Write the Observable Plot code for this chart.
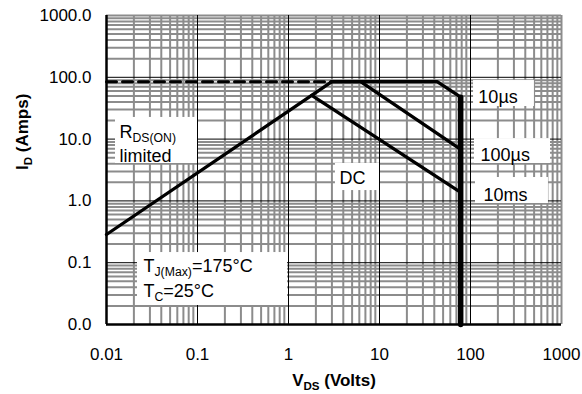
<!DOCTYPE html>
<html>
<head>
<meta charset="utf-8">
<script src="https://cdn.jsdelivr.net/npm/d3@7"></script>
<script src="https://cdn.jsdelivr.net/npm/@observablehq/plot@0.6"></script>
<style>
  html, body { margin: 0; padding: 0; background: #fff; }
  #chart { width: 582px; height: 394px; }
</style>
</head>
<body>
<div id="chart"></div>
<script>
// ---- Axis ticks / labels ----
const xTicks = [0.01, 0.1, 1, 10, 100, 1000];
const xTickLabels = ["0.01", "0.1", "1", "10", "100", "1000"];
const yTicks = [0.01, 0.1, 1, 10, 100, 1000];
const yTickLabels = ["0.0", "0.1", "1.0", "10.0", "100.0", "1000.0"];
const decades = [0.01, 0.1, 1, 10, 100];
const minorSteps = [2, 3, 4, 5, 6, 7, 8, 9];
const majorLines = [0.1, 1, 10, 100];

// ---- SOA curves (V_DS in volts, I_D in amps) ----
const rdsV = [0.01, 3];
const rdsI = [0.286, 85];
const packageV = [0.01, 3];          // dashed package limit
const packageI = [85, 85];
const dcV = [1.8, 78];
const dcI = [51, 1.37];
const us100V = [3, 6.2, 78];
const us100I = [85, 85, 6.8];
const us10V = [3, 43, 78];
const us10I = [85, 85, 47.6];
const bvV = [78, 78];                // breakdown limit
const bvI = [0.01, 47.6];

// ---- Annotations ----
const noteText = ["R_{DS(ON)}", "limited", "10µs", "100µs", "DC", "10ms", "T_{J(Max)}=175°C", "T_{C}=25°C"];
const noteV = [0.0139, 0.0139, 122, 129, 3.63, 139, 0.0255, 0.0255];
const noteI = [10.6, 4.34, 39, 4.5, 1.91, 1.0, 0.072, 0.0274];
const boxV1 = [0.01256, 108, 110.6, 3.28, 113.5, 0.0219];
const boxV2 = [0.1, 504, 757, 10, 719, 0.975];
const boxI1 = [4.03, 33.7, 4.03, 1.47, 0.908, 0.0203];
const boxI2 = [22.4, 88.7, 10.2, 4.03, 2.39, 0.146];

const minor = decades.flatMap(d => minorSteps.map(s => d * s));
const pts = (xs, ys) => xs.map((x, i) => ({x, y: ys[i]}));
const notes = noteText.map((t, i) => ({t, x: noteV[i], y: noteI[i]}));
const boxes = boxV1.map((v, i) => ({x1: v, x2: boxV2[i], y1: boxI1[i], y2: boxI2[i]}));

const plot = Plot.plot({
  width: 582,
  height: 394,
  marginLeft: 106,
  marginRight: 21,
  marginTop: 15,
  marginBottom: 70,
  style: {fontFamily: "'Liberation Sans', Arial, sans-serif", fontSize: "17px", color: "#000", background: "#fff"},
  x: {type: "log", domain: [0.01, 1000]},
  y: {type: "log", domain: [0.01, 1000]},
  marks: [
    Plot.ruleX(minor, {stroke: "#8c8c8c", strokeWidth: 2}),
    Plot.ruleY(minor, {stroke: "#8c8c8c", strokeWidth: 2}),
    Plot.ruleX([1000], {stroke: "#8c8c8c", strokeWidth: 2}),
    Plot.ruleY([1000], {stroke: "#8c8c8c", strokeWidth: 2}),
    Plot.ruleX(majorLines, {stroke: "#000", strokeWidth: 1}),
    Plot.ruleY(majorLines, {stroke: "#000", strokeWidth: 1}),
    Plot.ruleX([0.01], {stroke: "#000", strokeWidth: 2.5}),
    Plot.ruleY([0.01], {stroke: "#000", strokeWidth: 2.5}),
    Plot.rect(boxes, {x1: "x1", x2: "x2", y1: "y1", y2: "y2", fill: "#fff"}),
    Plot.line(pts(packageV, packageI), {x: "x", y: "y", stroke: "#000", strokeWidth: 3, strokeDasharray: "10,6"}),
    Plot.line(pts(rdsV, rdsI), {x: "x", y: "y", stroke: "#000", strokeWidth: 3.3}),
    Plot.line(pts(dcV, dcI), {x: "x", y: "y", stroke: "#000", strokeWidth: 3.3}),
    Plot.line(pts(us100V, us100I), {x: "x", y: "y", stroke: "#000", strokeWidth: 3.3}),
    Plot.line(pts(us10V, us10I), {x: "x", y: "y", stroke: "#000", strokeWidth: 3.3, strokeLinejoin: "miter"}),
    Plot.line(pts(bvV, bvI), {x: "x", y: "y", stroke: "#000", strokeWidth: 5.5}),
    Plot.text(notes, {x: "x", y: "y", text: "t", textAnchor: "start", lineAnchor: "bottom", fontSize: 18, fill: "#000"}),
    Plot.axisX(xTicks, {tickSize: 0, tickPadding: 23, tickFormat: d => xTickLabels[xTicks.indexOf(d)], label: null}),
    Plot.axisY(yTicks, {tickSize: 0, tickPadding: 15, tickFormat: d => yTickLabels[yTicks.indexOf(d)], label: null}),
    Plot.text(["V_{DS} (Volts)"], {frameAnchor: "bottom", dy: 61, lineAnchor: "bottom", fontWeight: "bold", fontSize: 17, text: d => d}),
    Plot.text(["I_{D} (Amps)"], {frameAnchor: "left", dx: -79, rotate: -90, lineAnchor: "bottom", fontWeight: "bold", fontSize: 17, text: d => d})
  ]
});

document.getElementById("chart").appendChild(plot);

// Render "_{...}" as subscripts
const NS = "http://www.w3.org/2000/svg";
plot.querySelectorAll("text").forEach(t => {
  const s = t.textContent;
  if (!s.includes("_{")) return;
  const fs = parseFloat(getComputedStyle(t).fontSize) || 16;
  const shift = Math.round(fs * 0.22);
  t.textContent = "";
  const re = /_\{([^}]*)\}/g;
  let last = 0, m;
  while ((m = re.exec(s))) {
    if (m.index > last) t.appendChild(document.createTextNode(s.slice(last, m.index)));
    const sub = document.createElementNS(NS, "tspan");
    sub.setAttribute("font-size", (fs * 0.68) + "px");
    sub.setAttribute("dy", shift);
    sub.textContent = m[1];
    t.appendChild(sub);
    last = re.lastIndex;
    const rest = s.slice(last).split("_{")[0];
    if (rest.length) {
      const back = document.createElementNS(NS, "tspan");
      back.setAttribute("dy", -shift);
      back.textContent = rest;
      t.appendChild(back);
      last += rest.length;
    }
  }
});
</script>
</body>
</html>
